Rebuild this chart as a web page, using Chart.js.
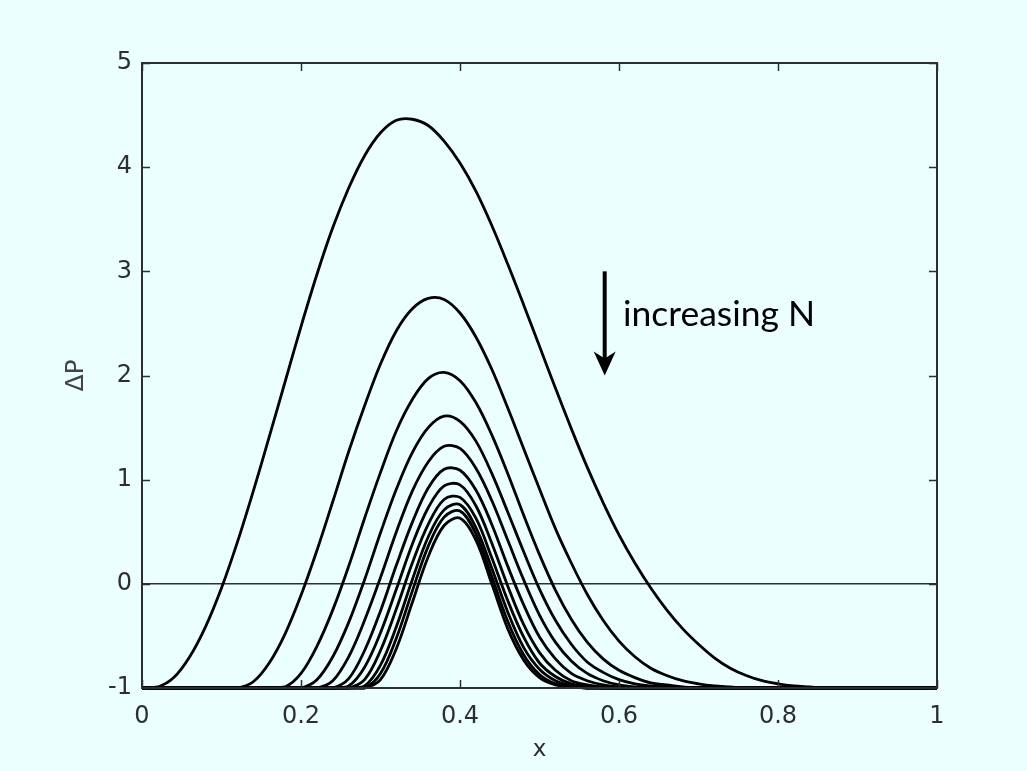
<!DOCTYPE html>
<html>
<head>
<meta charset="utf-8">
<script src="https://cdn.jsdelivr.net/npm/chart.js@4.4.1/dist/chart.umd.min.js"></script>
<style>
  html, body { margin: 0; padding: 0; background: #ecffff; }
  #wrap { width: 1027px; height: 771px; }
</style>
</head>
<body>
<div id="wrap"><canvas id="c" width="1027" height="771"></canvas></div>
<script>
// x positions (shared grid)
const xValues = [0.00,0.02,0.04,0.06,0.08,0.10,0.12,0.14,0.16,0.18,0.20,0.22,0.24,0.26,0.28,0.30,0.32,0.34,0.36,0.38,0.40,0.42,0.44,0.46,0.48,0.50,0.52,0.54,0.56,0.58,0.60,0.62,0.64,0.66,0.68,0.70,0.72,0.74,0.76,0.78,0.80,0.82,0.84,0.86,0.88,0.90,0.92,0.94,0.96,0.98,1.00];

// ΔP curves, from smallest N (top) to largest N (bottom)
const curve1  = [-1,-0.99,-0.90,-0.70,-0.41,-0.04,0.40,0.89,1.41,1.94,2.47,2.97,3.42,3.80,4.11,4.33,4.45,4.46,4.40,4.25,4.04,3.77,3.44,3.07,2.68,2.28,1.88,1.49,1.12,0.78,0.47,0.20,-0.04,-0.25,-0.43,-0.58,-0.71,-0.81,-0.88,-0.93,-0.96,-0.98,-0.99,-1,-1,-1,-1,-1,-1,-1,-1];
const curve2  = [-1,-1,-1,-1,-1,-1,-1,-0.94,-0.76,-0.48,-0.11,0.32,0.79,1.27,1.71,2.11,2.43,2.64,2.74,2.73,2.60,2.37,2.06,1.69,1.30,0.91,0.53,0.20,-0.10,-0.35,-0.55,-0.70,-0.81,-0.88,-0.93,-0.96,-0.98,-0.99,-1,-1,-1,-1,-1,-1,-1,-1,-1,-1,-1,-1,-1];
const curve3  = [-1,-1,-1,-1,-1,-1,-1,-1,-1,-0.99,-0.86,-0.60,-0.25,0.17,0.63,1.07,1.47,1.77,1.97,2.03,1.95,1.74,1.43,1.06,0.66,0.28,-0.06,-0.34,-0.56,-0.72,-0.83,-0.90,-0.95,-0.97,-0.99,-1,-1,-1,-1,-1,-1,-1,-1,-1,-1,-1,-1,-1,-1,-1,-1];
const curve4  = [-1,-1,-1,-1,-1,-1,-1,-1,-1,-1,-1,-0.92,-0.70,-0.37,0.04,0.49,0.91,1.26,1.50,1.61,1.56,1.37,1.06,0.69,0.31,-0.05,-0.35,-0.58,-0.75,-0.85,-0.92,-0.96,-0.98,-0.99,-1,-1,-1,-1,-1,-1,-1,-1,-1,-1,-1,-1,-1,-1,-1,-1,-1];
const curve5  = [-1,-1,-1,-1,-1,-1,-1,-1,-1,-1,-1,-1,-0.93,-0.70,-0.35,0.06,0.50,0.89,1.17,1.32,1.30,1.11,0.80,0.42,0.04,-0.30,-0.56,-0.74,-0.86,-0.93,-0.97,-0.99,-1,-1,-1,-1,-1,-1,-1,-1,-1,-1,-1,-1,-1,-1,-1,-1,-1,-1,-1];
const curve6  = [-1,-1,-1,-1,-1,-1,-1,-1,-1,-1,-1,-1,-1,-0.91,-0.64,-0.26,0.18,0.59,0.92,1.10,1.09,0.90,0.57,0.17,-0.20,-0.51,-0.72,-0.86,-0.93,-0.97,-0.99,-1,-1,-1,-1,-1,-1,-1,-1,-1,-1,-1,-1,-1,-1,-1,-1,-1,-1,-1,-1];
const curve7  = [-1,-1,-1,-1,-1,-1,-1,-1,-1,-1,-1,-1,-1,-0.98,-0.80,-0.47,-0.05,0.38,0.73,0.94,0.95,0.75,0.39,-0.02,-0.39,-0.66,-0.83,-0.93,-0.97,-0.99,-1,-1,-1,-1,-1,-1,-1,-1,-1,-1,-1,-1,-1,-1,-1,-1,-1,-1,-1,-1,-1];
const curve8  = [-1,-1,-1,-1,-1,-1,-1,-1,-1,-1,-1,-1,-1,-1,-0.92,-0.64,-0.24,0.20,0.57,0.81,0.83,0.63,0.25,-0.16,-0.51,-0.76,-0.89,-0.96,-0.99,-1,-1,-1,-1,-1,-1,-1,-1,-1,-1,-1,-1,-1,-1,-1,-1,-1,-1,-1,-1,-1,-1];
const curve9  = [-1,-1,-1,-1,-1,-1,-1,-1,-1,-1,-1,-1,-1,-1,-0.98,-0.78,-0.41,0.04,0.45,0.71,0.76,0.54,0.15,-0.27,-0.61,-0.82,-0.93,-0.98,-1,-1,-1,-1,-1,-1,-1,-1,-1,-1,-1,-1,-1,-1,-1,-1,-1,-1,-1,-1,-1,-1,-1];
const curve10 = [-1,-1,-1,-1,-1,-1,-1,-1,-1,-1,-1,-1,-1,-1,-1,-0.86,-0.52,-0.07,0.36,0.64,0.70,0.48,0.07,-0.36,-0.68,-0.87,-0.96,-0.99,-1,-1,-1,-1,-1,-1,-1,-1,-1,-1,-1,-1,-1,-1,-1,-1,-1,-1,-1,-1,-1,-1,-1];
const curve11 = [-1,-1,-1,-1,-1,-1,-1,-1,-1,-1,-1,-1,-1,-1,-1,-0.92,-0.62,-0.18,0.26,0.56,0.63,0.42,0.00,-0.43,-0.73,-0.90,-0.97,-0.99,-1,-1,-1,-1,-1,-1,-1,-1,-1,-1,-1,-1,-1,-1,-1,-1,-1,-1,-1,-1,-1,-1,-1];

const curves = [curve1, curve2, curve3, curve4, curve5, curve6, curve7, curve8, curve9, curve10, curve11];
const xTickLabels = ['0', '0.2', '0.4', '0.6', '0.8', '1'];
const yTickLabels = ['-1', '0', '1', '2', '3', '4', '5'];
const annotationText = 'increasing N';

const BG = '#ecffff';
const INK = '#2e2e2e';

const datasets = curves.map((c, k) => ({
  label: 'N' + (k + 1),
  data: xValues.map((x, i) => ({ x: x, y: c[i] })),
  borderColor: '#000',
  borderWidth: 2.8,
  pointRadius: 0,
  tension: 0.35,
  fill: false,
  clip: { left: 0, right: 0, top: 0, bottom: 3 }
}));

const framePlugin = {
  id: 'frame',
  beforeDraw(chart) {
    const ctx = chart.ctx;
    ctx.save();
    ctx.fillStyle = BG;
    ctx.fillRect(0, 0, chart.width, chart.height);
    ctx.restore();
  },
  afterDatasetsDraw(chart) {
    const { ctx, chartArea: a, scales: { x, y } } = chart;
    ctx.save();
    ctx.strokeStyle = INK;
    ctx.lineWidth = 1.5;
    const tl = 8;
    x.ticks.forEach(t => {
      const px = Math.round(x.getPixelForValue(t.value)) + 0.5;
      ctx.beginPath();
      ctx.moveTo(px, a.bottom); ctx.lineTo(px, a.bottom - tl);
      ctx.moveTo(px, a.top); ctx.lineTo(px, a.top + tl);
      ctx.stroke();
    });
    y.ticks.forEach(t => {
      const py = Math.round(y.getPixelForValue(t.value)) + 0.5;
      ctx.beginPath();
      ctx.moveTo(a.left, py); ctx.lineTo(a.left + tl, py);
      ctx.moveTo(a.right, py); ctx.lineTo(a.right - tl, py);
      ctx.stroke();
    });
    ctx.lineWidth = 2;
    ctx.strokeRect(a.left, a.top, a.right - a.left, a.bottom - a.top);

    // arrow annotation
    const ax = x.getPixelForValue(0.582);
    const ay0 = y.getPixelForValue(3.0);
    const ay1 = y.getPixelForValue(2.0);
    ctx.strokeStyle = '#000';
    ctx.fillStyle = '#000';
    ctx.lineWidth = 4;
    ctx.beginPath();
    ctx.moveTo(ax, ay0); ctx.lineTo(ax, ay1 - 12);
    ctx.stroke();
    ctx.beginPath();
    ctx.moveTo(ax, ay1);
    ctx.lineTo(ax - 11, ay1 - 24);
    ctx.lineTo(ax, ay1 - 17);
    ctx.lineTo(ax + 11, ay1 - 24);
    ctx.closePath();
    ctx.fill();

    // text
    let size = 28;
    ctx.font = size + 'px Lato';
    const w = ctx.measureText(annotationText).width;
    size = size * 192 / w;
    ctx.font = size.toFixed(1) + 'px Lato';
    ctx.textBaseline = 'alphabetic';
    ctx.textAlign = 'left';
    ctx.fillText(annotationText, x.getPixelForValue(0.605), y.getPixelForValue(2.48));
    ctx.restore();
  }
};

new Chart(document.getElementById('c'), {
  type: 'line',
  data: { datasets: datasets },
  options: {
    responsive: false,
    animation: false,
    devicePixelRatio: 1,
    layout: { padding: { left: 0, right: 90, top: 63, bottom: 0 } },
    plugins: { legend: { display: false }, tooltip: { enabled: false } },
    scales: {
      x: {
        type: 'linear',
        min: 0, max: 1,
        afterFit: s => { s.height = 83; },
        border: { display: false },
        grid: { display: false, drawTicks: false },
        ticks: {
          stepSize: 0.2,
          padding: 14,
          color: INK,
          font: { family: 'DejaVu Sans', size: 24 },
          maxRotation: 0,
          callback: (v) => xTickLabels[Math.round(v * 5)]
        },
        title: {
          display: true, text: 'x', color: INK,
          font: { family: 'DejaVu Sans', size: 23 },
          padding: { top: 0, bottom: 7 }
        }
      },
      y: {
        type: 'linear',
        min: -1, max: 5,
        afterFit: s => { s.width = 142; },
        border: { display: false },
        grid: {
          drawTicks: false,
          lineWidth: 1.5,
          color: c => (c.tick && c.tick.value === 0) ? INK : 'rgba(0,0,0,0)'
        },
        ticks: {
          stepSize: 1,
          padding: 10,
          color: INK,
          font: { family: 'DejaVu Sans', size: 24 },
          callback: (v) => yTickLabels[Math.round(v) + 1]
        },
        title: {
          display: true, text: 'ΔP', color: '#444',
          font: { family: 'DejaVu Sans', size: 25 },
          padding: { top: 61, bottom: 0 }
        }
      }
    }
  },
  plugins: [framePlugin]
});
</script>
</body>
</html>
